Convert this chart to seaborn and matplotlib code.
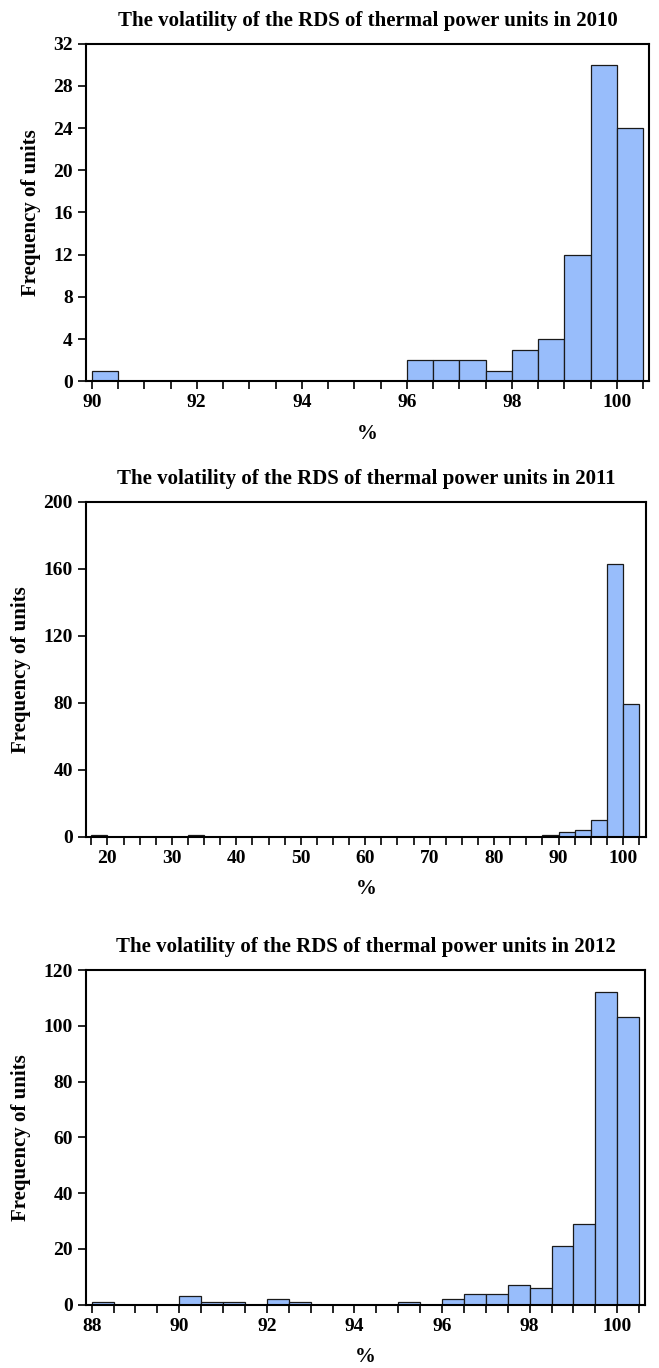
import numpy as np
import pandas as pd
import seaborn as sns
import matplotlib.pyplot as plt

sns.set_theme(style="ticks")
plt.rcParams['font.family'] = ['Liberation Serif', 'DejaVu Serif']
plt.rcParams['font.weight'] = 'bold'
plt.rcParams['axes.labelweight'] = 'bold'
plt.rcParams['axes.titleweight'] = 'bold'
plt.rcParams['text.color'] = 'black'
plt.rcParams['axes.labelcolor'] = 'black'
plt.rcParams['xtick.color'] = 'black'
plt.rcParams['ytick.color'] = 'black'

# bin left edges (%) and unit counts (empty bins left out)
years = ["2010", "2011", "2012"]

left_2010 = [90.0, 96.0, 96.5, 97.0, 97.5, 98.0, 98.5, 99.0, 99.5, 100.0]
count_2010 = [1, 2, 2, 2, 1, 3, 4, 12, 30, 24]

left_2011 = [17.5, 32.5, 87.5, 90.0, 92.5, 95.0, 97.5, 100.0]
count_2011 = [1, 1, 1, 3, 4, 10, 163, 79]

left_2012 = [88.0, 90.0, 90.5, 91.0, 92.0, 92.5, 95.0, 96.0, 96.5, 97.0,
             97.5, 98.0, 98.5, 99.0, 99.5, 100.0]
count_2012 = [1, 3, 1, 1, 2, 1, 1, 2, 4, 4, 7, 6, 21, 29, 112, 103]

# (bin width, first edge, last edge, x limits, major x ticks, y ticks)
panels = [
    (left_2010, count_2010, 0.5, 90.0, 100.5, (89.89, 100.61), np.arange(90, 101, 2), np.arange(0, 33, 4)),
    (left_2011, count_2011, 2.5, 17.5, 102.5, (16.68, 103.6), np.arange(20, 101, 10), np.arange(0, 201, 40)),
    (left_2012, count_2012, 0.5, 88.0, 100.5, (87.87, 100.63), np.arange(88, 101, 2), np.arange(0, 121, 20)),
]

boxes = [
    [0.1305, 0.7213, 0.8543, 0.2468],
    [0.1305, 0.3885, 0.8500, 0.2447],
    [0.1305, 0.0463, 0.8480, 0.2446],
]

fig = plt.figure(figsize=(6.59, 13.68), dpi=100)

for (lefts, counts, w, lo, hi, xlim, xt, yt), box, yr in zip(panels, boxes, years):
    ax = fig.add_axes(box)
    df = pd.DataFrame({'pct': np.array(lefts) + w / 2, 'n': counts})
    edges = np.arange(lo, hi + w / 2, w)
    sns.histplot(data=df, x='pct', weights='n', bins=list(edges), ax=ax,
                 color='#98BDFB', alpha=1, edgecolor='#1a1a1a', linewidth=0.9)
    ax.set_xlim(xlim)
    ax.set_ylim(0, yt[-1])
    ax.set_xticks(xt)
    ax.set_xticks(edges, minor=True)
    ax.set_yticks(yt)
    ax.tick_params(axis='both', which='both', direction='out', length=6, width=1.2,
                   color='black', labelcolor='black', labelsize=14)
    for s in ax.spines.values():
        s.set_linewidth(1.5)
        s.set_color('black')
    ax.set_title("The volatility of the RDS of thermal power units in " + yr,
                 fontsize=15, pad=13)
    ax.set_xlabel('%', fontsize=15, labelpad=9)
    ax.set_ylabel('Frequency of units', fontsize=15, labelpad=9)

fig.savefig("out.png", dpi=100)
